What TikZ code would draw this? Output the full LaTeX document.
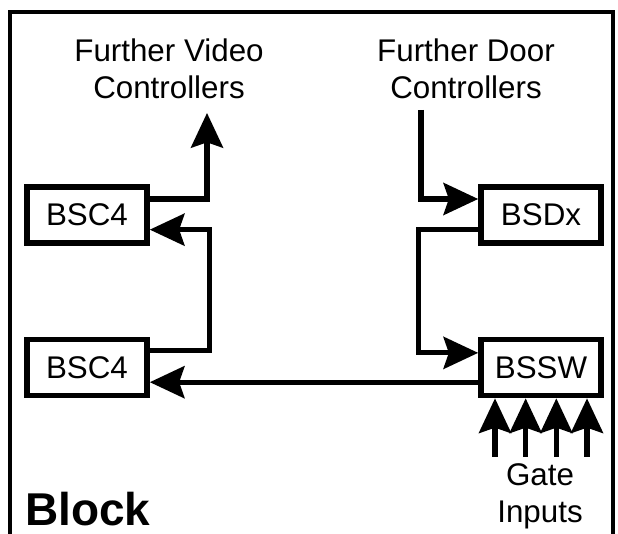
\documentclass[tikz,border=0pt]{standalone}
\usepackage{fontspec}
\setmainfont{Liberation Sans}
\usetikzlibrary{arrows.meta, positioning}

\begin{document}
\begin{tikzpicture}[
    x=0.75pt, y=-0.75pt,
    node distance=114.4pt,
    unit/.style={
        draw,
        rectangle,
        line width=4.2pt,
        minimum width=90pt,
        minimum height=42pt,
        inner sep=0pt,
        font=\fontsize{23.5}{27}\selectfont
    },
    txt/.style={align=center, inner sep=0pt, font=\fontsize{23.5}{27.5}\selectfont},
    arrow/.style={-{Stealth[length=26pt, width=24pt, inset=4pt]}, line width=3.8pt}
]
\useasboundingbox (0,0) rectangle (618,534);

% frame
\draw[line width=2.3pt] (10,534) -- (10,12) -- (613,12) -- (613,534);

\node[unit] (vidA) at (87,215) {BSC4};
\node[unit] (vidB) [below of=vidA] {BSC4};
\node[unit] (door) [right of=vidA, node distance=340.5pt] {BSDx};
\node[unit] (sw) [below of=door] {BSSW};

\node[txt] (vidlabel) at (169,69) {Further Video\\Controllers};
\node[txt] (doorlabel) at (466,69) {Further Door\\Controllers};
\node[txt] (gatelabel) at (540,496) {Gate\\Inputs};
\node[txt, anchor=base west, font=\bfseries\fontsize{34.5}{40}\selectfont] (block) at (25,526) {Block};

\coordinate (vidtop) at (207,113);
\coordinate (doortop) at (421,110);

\draw[arrow] ([yshift=12pt]vidA.east) -| (vidtop);
\draw[arrow] ([yshift=13pt]vidB.east) -- ++(60,0) |- ([yshift=-11pt]vidA.east);
\draw[arrow] (doortop) |- ([yshift=12pt]door.west);
\draw[arrow] ([yshift=-11pt]door.west) -- ++(-60,0) |- ([yshift=11pt]sw.west);
\draw[arrow] ([yshift=-11pt]sw.west) -- ([yshift=-11pt]vidB.east);
\foreach \dx in {-34.5,-11.5,11.5,34.5}
    \draw[arrow] ([xshift=\dx pt, yshift=-44pt]sw.south) -- ([xshift=\dx pt]sw.south);

\end{tikzpicture}
\end{document}
